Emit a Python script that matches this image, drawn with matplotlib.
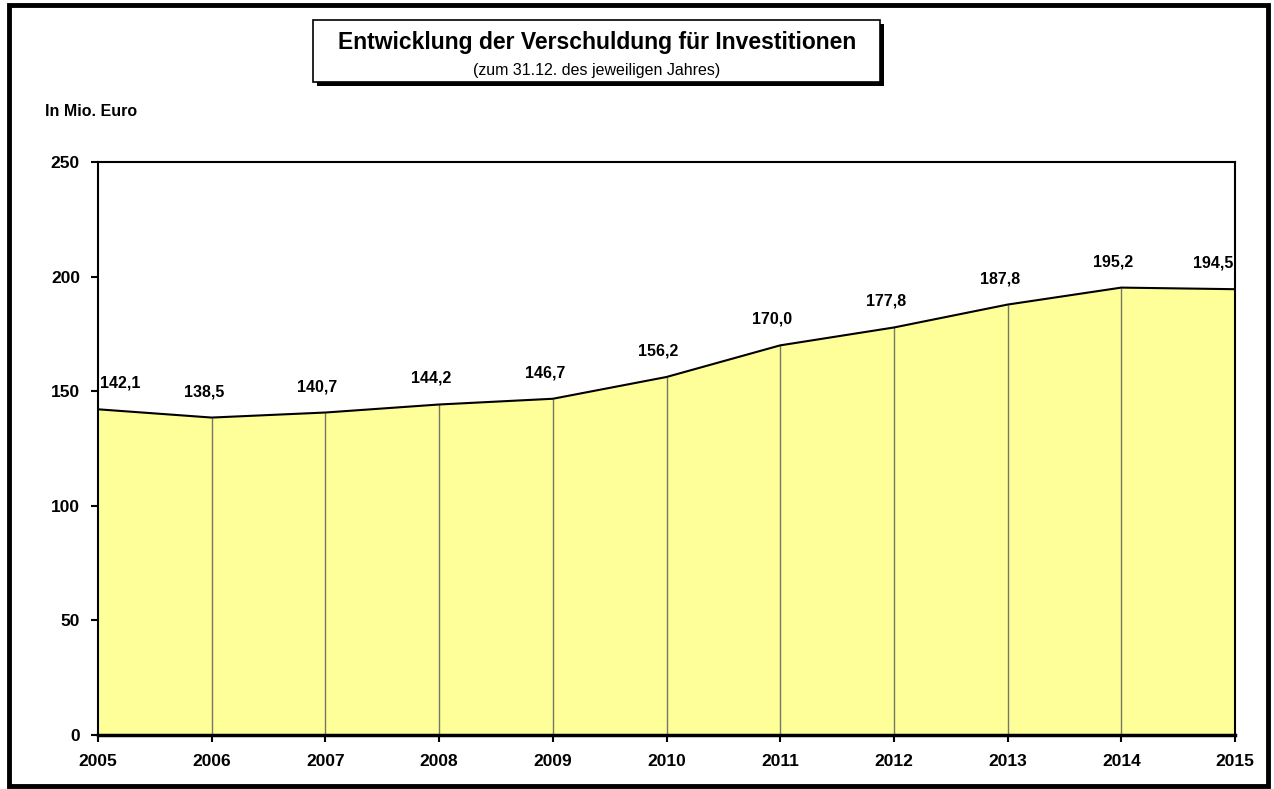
import matplotlib
matplotlib.use("Agg")
import matplotlib.pyplot as plt
from matplotlib.patches import Rectangle

years = [2005, 2006, 2007, 2008, 2009, 2010, 2011, 2012, 2013, 2014, 2015]
values = [142.1, 138.5, 140.7, 144.2, 146.7, 156.2, 170.0, 177.8, 187.8, 195.2, 194.5]
value_labels = ["142,1", "138,5", "140,7", "144,2", "146,7", "156,2", "170,0", "177,8", "187,8", "195,2", "194,5"]
y_ticks = [0, 50, 100, 150, 200, 250]

plt.rcParams['font.family'] = ['Liberation Sans', 'DejaVu Sans']

W, H = 1274, 789
fig = plt.figure(figsize=(W / 100, H / 100), dpi=100)
fig.patch.set_facecolor("white")

# outer frame
fig.add_artist(Rectangle((9 / W, 1 - 786 / H), (1268 - 9) / W, (786 - 5) / H,
                         transform=fig.transFigure, fill=False, lw=3.5,
                         edgecolor="black"))

ax = fig.add_axes([98 / W, 1 - 735 / H, (1235 - 98) / W, (735 - 162) / H])
ax.fill_between(years, values, 0, color="#FFFF99", zorder=1)
ax.plot(years, values, color="black", lw=1.5, zorder=3)
ax.vlines(years[1:-1], 0, values[1:-1], color="#777766", lw=1.0, zorder=2)

ax.set_xlim(years[0], years[-1])
ax.set_ylim(0, 250)
ax.set_xticks(years)
ax.set_xticklabels([str(y) for y in years])
ax.set_yticks(y_ticks)
for s in ax.spines.values():
    s.set_linewidth(1.5)
ax.spines["bottom"].set_linewidth(2.5)
ax.tick_params(axis="both", direction="out", length=5, width=1.5,
               labelsize=12.5)
for lab in ax.get_xticklabels() + ax.get_yticklabels():
    lab.set_fontweight("bold")
ax.tick_params(axis="x", pad=9)
ax.tick_params(axis="y", pad=8)

n = len(years)
for i, (x, v, t) in enumerate(zip(years, values, value_labels)):
    dx = -8
    if i == 0:
        dx = 22
    elif i == n - 1:
        dx = -22
    ax.annotate(t, (x, v), xytext=(dx, 26), textcoords="offset pixels",
                ha="center", va="center", fontsize=11.5, fontweight="bold")

fig.text(45 / W, 1 - 111 / H, "In Mio. Euro", fontsize=11.5, fontweight="bold",
         ha="left", va="center")

# title box with shadow
fig.add_artist(Rectangle((317 / W, 1 - 86 / H), (884 - 317) / W, (86 - 24) / H,
                         transform=fig.transFigure, facecolor="black",
                         edgecolor="black", lw=0))
fig.add_artist(Rectangle((313 / W, 1 - 82 / H), (880 - 313) / W, (82 - 20) / H,
                         transform=fig.transFigure, facecolor="white",
                         edgecolor="black", lw=1.2))
fig.text(597 / W, 1 - 43 / H, "Entwicklung der Verschuldung für Investitionen",
         fontsize=16.5, fontweight="bold", ha="center", va="center")
fig.text(597 / W, 1 - 70 / H, "(zum 31.12. des jeweiligen Jahres)",
         fontsize=11.5, ha="center", va="center")

fig.savefig("out.png", dpi=100)
